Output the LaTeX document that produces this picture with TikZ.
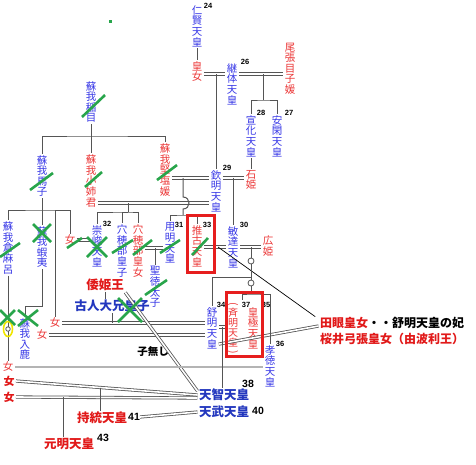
\documentclass[tikz,border=0pt]{standalone}
\usepackage{fontspec}
\newfontfamily\jp{Noto Sans CJK JP}
\newfontfamily\suji{Liberation Sans}
\usetikzlibrary{calc,shapes.geometric}

\definecolor{ao}{RGB}{55,55,230}
\definecolor{aka}{RGB}{235,55,55}
\definecolor{koao}{RGB}{35,55,190}
\definecolor{koaka}{RGB}{225,25,25}
\definecolor{sen}{RGB}{85,85,85}
\definecolor{midori}{RGB}{40,165,75}
\definecolor{hai}{RGB}{180,180,180}
\definecolor{kiiro}{RGB}{240,230,0}
\definecolor{akawaku}{RGB}{230,30,30}

\tikzset{
  otoko/.style={text=ao, align=center, inner sep=0pt, outer sep=1.5pt,
    font=\jp\fontsize{10.5}{10.6}\selectfont},
  onna/.style={otoko, text=aka},
  fao/.style={text=koao, inner sep=0pt, outer sep=1.5pt,
    font=\jp\bfseries\fontsize{12.5}{13}\selectfont},
  faka/.style={fao, text=koaka},
  num/.style={inner sep=0pt, font=\suji\bfseries\fontsize{7.5}{8}\selectfont},
  bnum/.style={num, font=\suji\bfseries\fontsize{10.5}{11}\selectfont},
  ko/.style={draw=sen, line width=1pt},
  kon/.style={draw=sen, line width=0.8pt, double=white, double distance=1.6pt},
  batu/.style={draw=midori, line width=2.6pt},
  waku/.style={draw=akawaku, line width=3pt},
  maru/.style={circle, draw=sen, fill=white, line width=0.8pt, minimum size=6pt, inner sep=0pt},
}

\begin{document}
\begin{tikzpicture}[x=1pt,y=-1pt]
\useasboundingbox (0,0) rectangle (476,464);

\node[otoko] (ninken) at (197,26) {仁\\賢\\天\\皇};
\node[onna] (kojo) at (197,71.5) {皇\\女};
\node[otoko] (keitai) at (232,84) {継\\体\\天\\皇};
\node[onna] (owari) at (290,68.5) {尾\\張\\目\\子\\媛};
\node[otoko] (senka) at (251,136) {宣\\化\\天\\皇};
\node[otoko] (ankan) at (277,136) {安\\閑\\天\\皇};
\node[otoko] (kinmei) at (216,191) {欽\\明\\天\\皇};
\node[onna] (ishi) at (251,180) {石\\姫};
\node[otoko] (iname) at (91,102) {蘇\\我\\稲\\目};
\node[otoko] (umako) at (42,176) {蘇\\我\\馬\\子};
\node[onna] (oane) at (91,181) {蘇\\我\\小\\姉\\君};
\node[onna] (kitashi) at (165,170) {蘇\\我\\堅\\塩\\媛};
\node[otoko] (kura) at (8,248) {蘇\\我\\倉\\麻\\呂};
\node[otoko] (emishi) at (42,247) {蘇\\我\\蝦\\夷};
\node[otoko] (iruka) at (25,339) {蘇\\我\\入\\鹿};
\node[onna] (onnaA) at (70,240) {女};
\node[otoko] (sushun) at (97,246) {崇\\峻\\天\\皇};
\node[otoko] (anaM) at (122,251) {穴\\穂\\部\\皇\\子};
\node[onna] (anaF) at (138,251) {穴\\穂\\部\\皇\\女};
\node[otoko] (yomei) at (170,243) {用\\明\\天\\皇};
\node[otoko] (shotoku) at (155,287) {聖\\徳\\太\\子};
\node[onna] (suiko) at (197,246) {推\\古\\天\\皇};
\node[otoko] (bidatsu) at (233,247) {敏\\達\\天\\皇};
\node[onna] (hiro) at (268,246) {広\\姫};
\node[otoko] (jomei) at (212,328) {舒\\明\\天\\皇};
\node[onna] (kogyoku) at (253,328) {皇\\極\\天\\皇};
\node[onna, font=\jp\fontsize{10}{10}\selectfont] (saimei) at (233,328) {斉\\明\\天\\皇};
\node[onna, rotate=-90] (kakkoA) at (233,304) {(};
\node[onna, rotate=-90] (kakkoB) at (233,352) {)};
\node[otoko] (kotoku) at (270,366) {孝\\徳\\天\\皇};
\node[onna] (onnaB) at (55,323) {女};
\node[onna] (onnaC) at (42,335) {女};
\node[onna] (onnaD) at (8,367) {女};

\node[faka] (yamato) at (105,285) {倭姫王};
\node[fao] (furuhito) at (112,306) {古人大兄皇子};
\node[fao] (tenji) at (224,395) {天智天皇};
\node[fao] (tenmu) at (224,412) {天武天皇};
\node[faka] (jito) at (102,418) {持統天皇};
\node[faka] (genmei) at (69,444) {元明天皇};
\node[faka, font=\jp\bfseries\fontsize{11}{11}\selectfont] (onnaE) at (9,381) {女};
\node[faka, font=\jp\bfseries\fontsize{11}{11}\selectfont] (onnaF) at (9,397) {女};
\node[fao, text=black, font=\jp\bfseries\fontsize{10.5}{11}\selectfont] (konashi) at (153,352) {子無し};
\node[faka, anchor=west, font=\jp\bfseries\fontsize{12}{12}\selectfont] (tame) at (318.5,323) {田眼皇女\textcolor{black}{・・舒明天皇の妃}};
\node[faka, anchor=west, font=\jp\bfseries\fontsize{12}{12}\selectfont] (sakurai) at (318.5,339) {桜井弓張皇女（由波利王）};

\node[num] (n24) at (208,6) {24};
\node[num] (n26) at (245,62) {26};
\node[num] (n28) at (261,113) {28};
\node[num] (n27) at (289,113) {27};
\node[num] (n29) at (227,168) {29};
\node[num] (n32) at (107,224) {32};
\node[num] (n31) at (179,225) {31};
\node[num] (n33) at (207,225) {33};
\node[num] (n30) at (244,225) {30};
\node[num] (n34) at (221,305) {34};
\node[num] (n37) at (246,305) {37};
\node[num] (n35) at (266,305) {35};
\node[num] (n36) at (280,344) {36};
\node[bnum] (n38) at (248,384) {38};
\node[bnum] (n40) at (258,411) {40};
\node[bnum] (n41) at (134,417) {41};
\node[bnum] (n43) at (103,438) {43};

\coordinate (k1) at (216,74);
\coordinate (k2) at (263,74);
\coordinate (k3) at (233,178);
\coordinate (k4) at (183,178);
\coordinate (k5) at (128,203);
\coordinate (k7) at (155,248);
\coordinate (k8) at (218,247);
\coordinate (k9) at (251,247);
\coordinate (k10) at (222,327);
\coordinate (k11) at (112,323);

% kon'in
\draw[kon] (kojo.east|-k1) -- (keitai.west|-k1);
\draw[kon] (keitai.east|-k2) -- (owari.west|-k2);
\draw[kon] (kinmei.east|-k3) -- (ishi.west|-k3);
\draw[kon] (kitashi.east|-k4) -- (kinmei.west|-k4);
\draw[kon] (oane.east|-k5) -- (kinmei.west|-k5);
\draw[kon] (onnaA.east) -- (sushun.west|-onnaA.east);
\draw[kon] (anaF.east|-k7) -- (yomei.west|-k7);
\draw[kon] (suiko.east|-k8) -- (bidatsu.west|-k8);
\draw[kon] (bidatsu.east|-k9) -- (hiro.west|-k9);
\draw[kon] (jomei.east|-k10) -- (saimei.west|-k10);
\draw[kon] (onnaB.east|-k11) -- (jomei.west|-k11);
\draw[kon] (onnaC.east) -- (jomei.west|-onnaC.east);
\draw[kon] ([yshift=6pt]jomei.south east) -- ([yshift=-3pt]tame.west);
\draw[kon] (yamato.south east) -- ([yshift=4pt]tenji.west);
\draw[kon] (onnaE.east) -- (tenji.west);
\draw[kon] (onnaF.east) -- ([yshift=-3pt]tenji.west);
\draw[kon] (n41.east) -- (tenmu.west);
\draw[hai, line width=2.6pt] (onnaD.east) -- (kotoku.west|-onnaD.east);

% oyako
\draw[ko] (ninken.south) -- (kojo.north);
\draw[ko] (k1) -- (kinmei.north);
\draw[ko] (k2) -- ++(0,26) coordinate (b2);
\draw[ko] (senka.north) |- (b2) -| (ankan.north);
\draw[ko] (senka.south) -- (ishi.north);
\draw[ko] (k3) -- (bidatsu.north);
\coordinate (k6) at (183,215);
\draw[ko] (k4) -- ++(0,19) .. controls +(8,0) and +(8,0) .. ++(0,12) -- (k6);
\draw[ko] (yomei.north) |- (k6) -| (suiko.north);
\draw[ko] (k5) -- ++(0,9) coordinate (b5);
\draw[ko] (sushun.north) |- (b5) -| (anaF.north);
\draw[ko] (b5) -| (anaM.north);
\draw[ko] (k7) -- (shotoku.north);
\draw[line width=0.7pt, shorten >=4pt] (k8) -- ([yshift=4pt]tame.west);
\node[maru] (hiko) at (251,261) {};
\node[maru] (chinu) at (251,283) {};
\draw[ko] (k9) -- (hiko) -- (chinu) -- ++(0,11) coordinate (b10);
\coordinate (b9) at (251,277);
\draw[ko] (b9) -| (jomei.north);
\draw[ko] (kotoku.north) |- (b10) -- ++(-9,0) -- ++(0,6);
\draw[ko] (k10) -- (k10|-tenji.north);
\draw[ko] (furuhito.south) -- (k11);
\draw[ko] (yamato.south) -- (yamato.south|-furuhito.north);
\coordinate (k12) at ($(onnaE.east)!.465!(tenji.west)$);
\coordinate (k13) at ($(onnaF.east)!.26!([yshift=-3pt]tenji.west)$);
\draw[ko] (k12) -- (k12|-jito.north);
\draw[ko] (k13) -- (k13|-genmei.north);
\coordinate (b1) at (91,136);
\draw[ko] (iname.south) -- (b1);
\draw[ko] (umako.north) |- (b1) -| (kitashi.north);
\draw[ko] (b1) -- (oane.north);
\coordinate (b3) at (42,210);
\draw[ko] (umako.south) -- (b3);
\draw[ko] (kura.north) |- (b3) -| (onnaA.north);
\draw[ko] (b3) -- (emishi.north);
\draw[ko] (b3-|onnaB) -- (onnaB.north);
\draw[ko] (emishi.south) -- ++(0,37) coordinate (b4) -| (iruka.north);
\draw[ko] (kura.south) -- (onnaD.north);
\node[draw=kiiro, line width=1.6pt, ellipse, minimum width=9pt, minimum height=15pt, inner sep=0pt] (yume) at (8,329) {};
\node[maru, minimum size=4.5pt] (yumaru) at (yume) {};

% batsu
\fill[midori] (108.5,19.5) rectangle ++(3,3);
\draw[batu] (82,117) -- (105,95);
\draw[batu] (30,190) -- (53,173);
\draw[batu] (85,187) -- (102,172);
\draw[batu] (157,180) -- (177,165);
\draw[batu] (0,257) -- (20,243);
\draw[batu] (67,248) -- (82,238);
\draw[batu] (112,253) -- (133,240);
\draw[batu] (133,255) -- (152,240);
\draw[batu] (160,253) -- (180,240);
\draw[batu] (145,295) -- (167,280);
\draw[batu] (192,255) -- (208,238);
\draw[batu] (33,224) -- (51,242) (33,242) -- (51,224);
\draw[batu] (87,237) -- (107,257) (87,257) -- (107,237);
\draw[batu] (118,298) -- (142,322) (118,322) -- (142,298);
\draw[batu] (0,310) -- (15,325) (0,325) -- (15,310);
\draw[batu] (18,310) -- (38,326) (18,326) -- (38,310);

\draw[waku] (187,215) rectangle (214,272);
\draw[waku] (226,292) rectangle (262,356);
\end{tikzpicture}
\end{document}
